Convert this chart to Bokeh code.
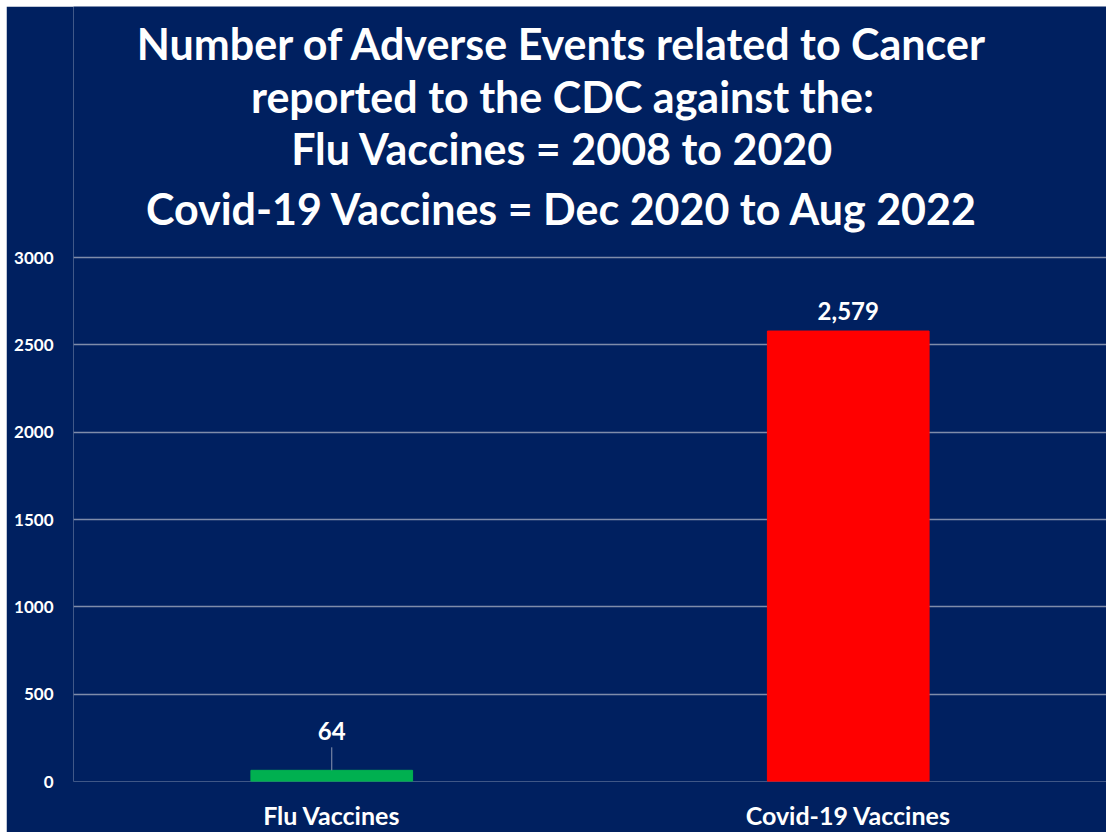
from bokeh.plotting import figure
from bokeh.models import ColumnDataSource, Range1d, FixedTicker, LabelSet
from bokeh.core.properties import value
from bokeh.embed import file_html
from bokeh.resources import INLINE

categories = ["Flu Vaccines", "Covid-19 Vaccines"]
values = [64, 2579]
value_labels = ["64", "2,579"]
bar_colors = ["#00B050", "#FF0000"]
label_offsets = [30, 11]
y_ticks = [0, 500, 1000, 1500, 2000, 2500, 3000]
title_lines = [
    "Number of Adverse Events related to Cancer",
    "reported to the CDC against the:",
    "Flu Vaccines = 2008 to 2020",
    "Covid-19 Vaccines = Dec 2020 to Aug 2022",
]

# layout constants (pixels)
FRAME_PX = 775          # height of the plotting frame
AXIS_PX = 524           # pixels spanned by 0..3000
Y_TOP = 3000 * FRAME_PX / AXIS_PX
PX = 3000 / AXIS_PX     # data units per pixel
TITLE_PX_FROM_ZERO = [738, 685, 633, 573]
title_y = [v * PX for v in TITLE_PX_FROM_ZERO]
title_x = [0.9467] * len(title_lines)

BG = "#002060"
FONT = "Lato"

src = ColumnDataSource(dict(cat=categories, val=values, lab=value_labels,
                            color=bar_colors, off=label_offsets))
tsrc = ColumnDataSource(dict(x=title_x, y=title_y, t=title_lines))

p = figure(x_range=categories, y_range=Range1d(0, Y_TOP), width=1100, height=826,
           output_backend="svg", toolbar_location=None,
           background_fill_color=BG, border_fill_color=BG,
           min_border_left=67, min_border_right=0, min_border_bottom=51, min_border_top=0)
p.margin = (6, 0, 0, 6)
p.outline_line_color = None
p.title.visible = False

p.text(x="x", y="y", text="t", source=tsrc, text_align="center", text_baseline="middle",
       text_color="white", text_font=value(FONT), text_font_size="43px",
       text_font_style="bold")

p.vbar(x="cat", top="val", width=0.313, color="color", source=src)

# leader line for the small bar
p.segment(x0=[categories[0]], y0=[values[0]], x1=[categories[0]], y1=[values[0] + 23 * PX],
          line_color="#8C96B0", line_width=1)

labels = LabelSet(x="cat", y="val", text="lab", source=src, y_offset="off",
                  text_align="center", text_baseline="bottom", text_color="white",
                  text_font=value(FONT), text_font_size="24px", text_font_style="bold")
p.add_layout(labels)

p.yaxis.ticker = FixedTicker(ticks=y_ticks)
p.yaxis.axis_line_color = None
p.yaxis.major_tick_line_color = None
p.yaxis.minor_tick_line_color = None
p.yaxis.major_tick_out = 0
p.yaxis.major_tick_in = 0
p.yaxis.minor_tick_out = 0
p.yaxis.major_label_standoff = 20
p.yaxis.major_label_text_color = "white"
p.yaxis.major_label_text_font = FONT
p.yaxis.major_label_text_font_size = "17px"
p.yaxis.major_label_text_font_style = "bold"

p.xaxis.axis_line_color = None
p.xaxis.major_tick_line_color = None
p.xaxis.major_tick_out = 0
p.xaxis.major_tick_in = 0
p.xaxis.major_label_standoff = 18
p.xaxis.major_label_text_color = "white"
p.xaxis.major_label_text_font = FONT
p.xaxis.major_label_text_font_size = "25px"
p.xaxis.major_label_text_font_style = "bold"

p.xgrid.grid_line_color = None
p.ygrid.grid_line_color = "#7F8CAA"
p.ygrid.grid_line_width = 1.5

open("out.html", "w").write(file_html(p, INLINE))
